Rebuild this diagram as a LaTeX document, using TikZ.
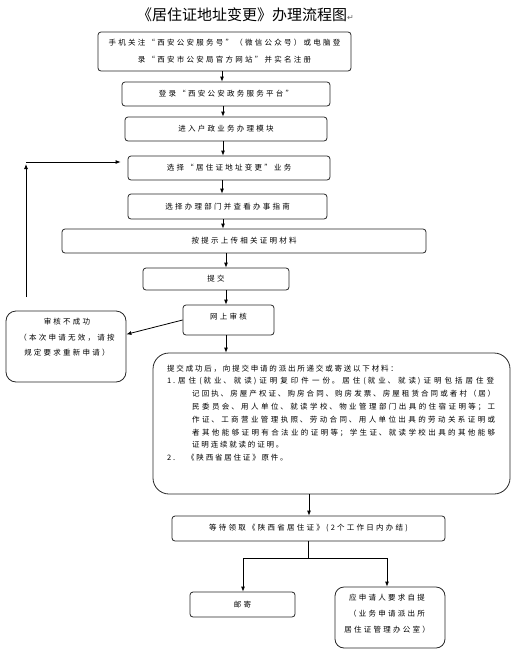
\documentclass[tikz,border=0pt]{standalone}
\usepackage{fontspec}
\newfontfamily\cjk{Noto Sans CJK SC}[LetterSpace=30]
\newfontfamily\cjkb{Noto Sans CJK SC}[LetterSpace=24]
\newfontfamily\cjkt{Noto Sans CJK SC}
\newfontfamily\dejavu{DejaVu Sans}
\usetikzlibrary{arrows.meta,calc}
\XeTeXlinebreaklocale "zh"
\XeTeXlinebreakskip=0pt plus 1pt
\newcommand\bodyf{\cjk\fontsize{7.5}{9}\selectfont}
\newcommand\jline[2]{\parbox[t]{#1}{\parfillskip=0pt\relax #2}}
\tikzset{
  box/.style={draw=black!85, line width=0.8pt, rounded corners=3pt, inner sep=0pt, font=\bodyf, align=center},
  bigbox/.style={box, rounded corners=#1},
  txt/.style={inner sep=0pt, align=center},
  arr/.style={draw=black, line width=0.8pt, -{Latex[length=5pt,width=4pt]}},
  ln/.style={draw=black, line width=0.8pt}
}
\begin{document}
\begin{tikzpicture}[x=1pt,y=-1pt]
\useasboundingbox (0,0) rectangle (519,651);
% title
\node[inner sep=0pt, anchor=west, font=\cjkt\fontsize{15}{18}\selectfont] (title) at (137,15)
  {《居住证地址变更》办理流程图{\dejavu\fontsize{8}{8}\selectfont\color{black!60}↵}};
% boxes
\node[box, minimum width=253pt, minimum height=39pt, font=\cjk\fontsize{7.5}{17}\selectfont] (b1) at (224.5,51.5)
  {手机关注“西安公安服务号”（微信公众号）或电脑登\\录“西安市公安局官方网站”并实名注册};
\node[box, minimum width=208pt, minimum height=24pt] (b2) at (226,94) {登录“西安公安政务服务平台”};
\node[box, minimum width=202pt, minimum height=24pt] (b3) at (226,129) {进入户政业务办理模块};
\node[box, minimum width=202pt, minimum height=24pt] (b4) at (229,168) {选择“居住证地址变更”业务};
\node[box, minimum width=199pt, minimum height=25pt] (b5) at (227.5,206.5) {选择办理部门并查看办事指南};
\node[box, minimum width=364pt, minimum height=24pt] (b6) at (244,241) {按提示上传相关证明材料};
\node[box, minimum width=146pt, minimum height=22pt] (b7) at (216,279) {提交};
\node[box, minimum width=91pt, minimum height=30pt] (b8) at (228.5,320) {};
\node[txt, font=\bodyf] (t8) at (228.5,317) {网上审核};
\node[bigbox=10pt, minimum width=120pt, minimum height=71pt] (b9) at (66,346.5) {};
\node[txt, anchor=north, font=\cjk\fontsize{7.5}{15.5}\selectfont] (t9) at (67,318)
  {审核不成功\\（本次申请无效，请按\\规定要求重新申请）};
\node[bigbox=16pt, minimum width=357pt, minimum height=141pt] (b10) at (331.5,423.5) {};
\node[anchor=north west, align=left, inner sep=0pt, font=\cjkb\fontsize{7.5}{12.8}\selectfont] (t10) at (167,364.5)
  {提交成功后，向提交申请的派出所递交或寄送以下材料：\\
   \makebox[11pt][l]{1.}\jline{316pt}{居住(就业、就读)证明复印件一份。居住(就业、就读)证明包括居住登}\\
   \hspace*{25pt}\jline{303pt}{记回执、房屋产权证、购房合同、购房发票、房屋租赁合同或者村（居）}\\
   \hspace*{25pt}\jline{303pt}{民委员会、用人单位、就读学校、物业管理部门出具的住宿证明等；工}\\
   \hspace*{25pt}\jline{303pt}{作证、工商营业管理执照、劳动合同、用人单位出具的劳动关系证明或}\\
   \hspace*{25pt}\jline{303pt}{者其他能够证明有合法业的证明等；学生证、就读学校出具的其他能够}\\
   \hspace*{25pt}证明连续就读的证明。\\
   \makebox[20pt][l]{2.}《陕西省居住证》原件。};
\node[box, minimum width=273pt, minimum height=25pt] (b11) at (308.5,528.5) {等待领取《陕西省居住证》(2个工作日内办结)};
\node[box, minimum width=105pt, minimum height=25pt] (b12) at (242.5,604.5) {邮寄};
\node[bigbox=9pt, minimum width=110pt, minimum height=61pt] (b13) at (390,617.5) {};
\node[txt, anchor=north, font=\cjk\fontsize{7.5}{16}\selectfont] (t13) at (387,594)
  {应申请人要求自提\\（业务申请派出所\\居住证管理办公室）};
% connectors
\coordinate (x1) at (222,0);
\coordinate (x2) at (223,0);
\coordinate (x3) at (226,0);
\coordinate (x4) at (309,0);
\draw[arr] (b1.south -| x1) -- (b2.north -| x1);
\draw[arr] (b2.south -| x2) -- (b3.north -| x2);
\draw[arr] (b3.south -| x2) -- (b4.north -| x2);
\draw[arr] (b4.south -| x1) -- (b5.north -| x1);
\draw[arr] (b5.south -| x2) -- (b6.north -| x2);
\draw[arr] (b6.south -| x3) -- (b7.north -| x3);
\draw[arr] (b7.south -| x3) -- (b8.north -| x3);
\draw[arr] (b8.south -| x3) -- (b10.north -| x3);
\draw[arr] (b10.south -| x4) -- (b11.north -| x4);
% failure
\coordinate (f1) at ($(b9.north east)!0.33!(b9.south east)$);
\draw[arr] (b8.west) -- (f1);
% loop back
\coordinate (lp1) at (26,297);
\coordinate (lp2) at (26,164);
\coordinate (lp3) at (26,162);
\draw[arr] (lp1) -- (lp2);
\draw[arr, shorten >=7pt] (lp3) -- (lp3 -| b4.west);
% split
\coordinate (s0) at (308,558);
\coordinate (sl) at (243,558);
\coordinate (sr) at (387,558);
\draw[ln] (b11.south -| s0) -- (s0);
\draw[ln] (sl) -- (sr);
\draw[arr] (sl) -- (b12.north -| sl);
\draw[arr] (sr) -- (b13.north -| sr);
\end{tikzpicture}
\end{document}
